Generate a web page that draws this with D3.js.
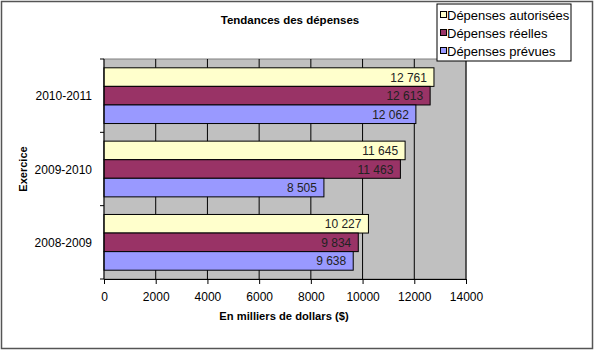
<!DOCTYPE html>
<html>
<head>
<meta charset="utf-8">
<script src="https://cdn.jsdelivr.net/npm/d3@7"></script>
<style>
  body { margin: 0; background: #fff; }
  svg { display: block; }
  svg text { font-family: "Liberation Sans", Arial, sans-serif; }
</style>
</head>
<body>
<div id="chart"></div>
<script>
// Data
const years = ["2010-2011", "2009-2010", "2008-2009"];
const seriesNames = ["Dépenses autorisées", "Dépenses réelles", "Dépenses prévues"];
const autorisees = [12761, 11645, 10227];
const reelles = [12613, 11463, 9834];
const prevues = [12062, 8505, 9638];
const xTicks = [0, 2000, 4000, 6000, 8000, 10000, 12000, 14000];

const colors = ["#ffffcc", "#993366", "#9999ff"];
const seriesValues = [autorisees, reelles, prevues];

const width = 595, height = 352;
const margin = { top: 59, right: 129, bottom: 73, left: 104 };
const innerWidth = width - margin.left - margin.right;
const innerHeight = height - margin.top - margin.bottom;

const svg = d3.select("#chart").append("svg")
    .attr("width", width)
    .attr("height", height);

// outer frame
svg.append("rect")
    .attr("x", 1.5).attr("y", 1.5)
    .attr("width", width - 4).attr("height", height - 5)
    .attr("fill", "none")
    .attr("stroke", "#555")
    .attr("stroke-width", 1.5);

const g = svg.append("g")
    .attr("transform", `translate(${margin.left},${margin.top})`);

// scales
const x = d3.scaleLinear().domain([0, 14000]).range([0, innerWidth]);
const y0 = d3.scaleBand().domain(years).range([0, innerHeight]).paddingInner(0.24).paddingOuter(0.12);
const y1 = d3.scaleBand().domain(seriesNames).range([0, y0.bandwidth()]);

// plot background
g.append("rect")
    .attr("width", innerWidth).attr("height", innerHeight)
    .attr("fill", "#c0c0c0")
    .attr("stroke", "#808080");

// gridlines
g.append("g")
    .selectAll("line")
    .data(xTicks.slice(1))
    .enter().append("line")
    .attr("x1", d => x(d)).attr("x2", d => x(d))
    .attr("y1", 0).attr("y2", innerHeight)
    .attr("stroke", "#000")
    .attr("stroke-width", 1);

// bars
const rows = [];
years.forEach((yr, i) => {
    seriesNames.forEach((s, j) => {
        rows.push({ year: yr, series: s, value: seriesValues[j][i], color: colors[j] });
    });
});

const fmt = v => d3.format(",")(v).replace(",", " ");

g.append("g")
    .selectAll("rect")
    .data(rows)
    .enter().append("rect")
    .attr("x", 0)
    .attr("y", d => y0(d.year) + y1(d.series))
    .attr("width", d => x(d.value))
    .attr("height", y1.bandwidth())
    .attr("fill", d => d.color)
    .attr("stroke", "#000")
    .attr("stroke-width", 1);

g.append("g")
    .selectAll("text")
    .data(rows)
    .enter().append("text")
    .attr("x", d => x(d.value) - 7)
    .attr("y", d => y0(d.year) + y1(d.series) + y1.bandwidth() / 2 + 4.5)
    .attr("text-anchor", "end")
    .attr("font-size", 12)
    .attr("fill", "#222")
    .text(d => fmt(d.value));

// x axis
const xAxis = g.append("g")
    .attr("transform", `translate(0,${innerHeight})`)
    .call(d3.axisBottom(x).tickValues(xTicks).tickFormat(d3.format("d")).tickSize(5).tickPadding(6));
xAxis.attr("font-family", null).attr("font-size", null);
xAxis.select(".domain").attr("stroke", "#000");
xAxis.selectAll("text")
    .attr("dy", null)
    .attr("y", 22)
    .attr("font-size", 12)
    .attr("fill", "#000");

// y axis with ticks at category boundaries
g.append("line")
    .attr("x1", 0).attr("x2", 0).attr("y1", 0).attr("y2", innerHeight)
    .attr("stroke", "#000");
g.append("g")
    .selectAll("line")
    .data(d3.range(years.length + 1))
    .enter().append("line")
    .attr("x1", -4).attr("x2", 0)
    .attr("y1", i => i * y0.step())
    .attr("y2", i => i * y0.step())
    .attr("stroke", "#000");
g.append("g")
    .selectAll("text")
    .data(years)
    .enter().append("text")
    .attr("x", -12)
    .attr("y", d => y0(d) + y0.bandwidth() / 2 + 4.5)
    .attr("text-anchor", "end")
    .attr("font-size", 12)
    .text(d => d);

// titles
svg.append("text")
    .attr("x", 290).attr("y", 24)
    .attr("text-anchor", "middle")
    .attr("font-size", 11.5)
    .attr("font-weight", "bold")
    .text("Tendances des dépenses");

svg.append("text")
    .attr("x", 284).attr("y", 320)
    .attr("text-anchor", "middle")
    .attr("font-size", 11.2)
    .attr("font-weight", "bold")
    .text("En milliers de dollars ($)");

svg.append("text")
    .attr("transform", "translate(27,169) rotate(-90)")
    .attr("text-anchor", "middle")
    .attr("font-size", 11)
    .attr("font-weight", "bold")
    .text("Exercice");

// legend
const legend = svg.append("g").attr("transform", "translate(437,4)");
legend.append("rect")
    .attr("width", 134).attr("height", 57)
    .attr("fill", "#fff")
    .attr("stroke", "#000");
seriesNames.forEach((s, j) => {
    legend.append("rect")
        .attr("x", 3.5).attr("y", 7.5 + j * 18)
        .attr("width", 6).attr("height", 6)
        .attr("fill", colors[j])
        .attr("stroke", "#000");
    legend.append("text")
        .attr("x", 10).attr("y", 15.5 + j * 18)
        .attr("font-size", 13)
        .text(s);
});
</script>
</body>
</html>
